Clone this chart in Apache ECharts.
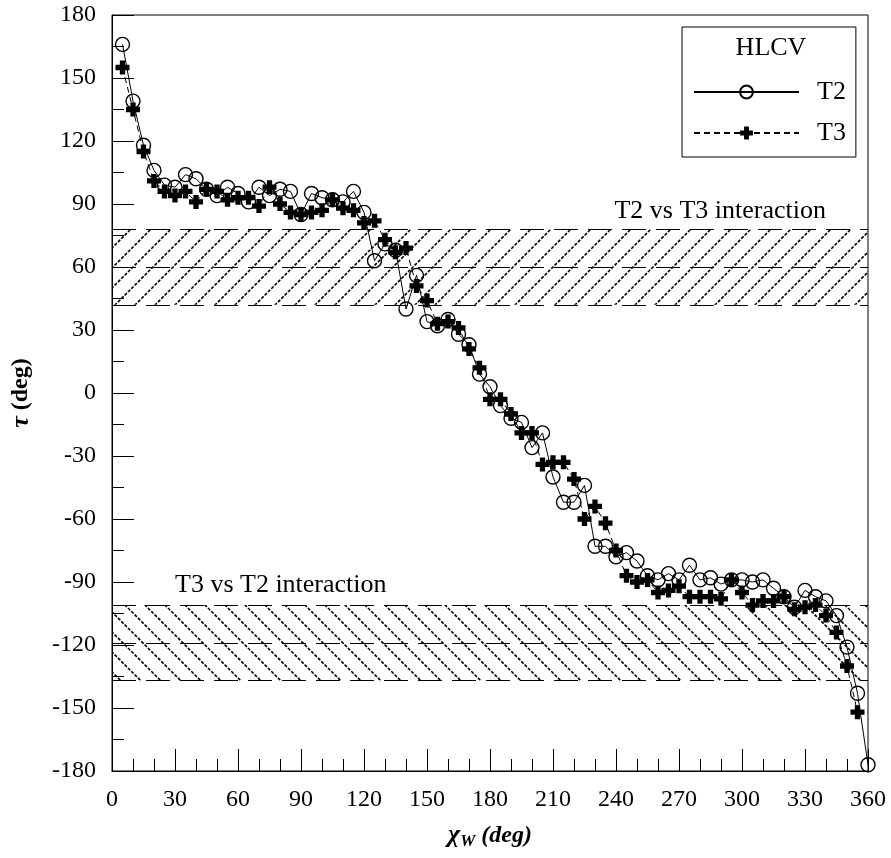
<!DOCTYPE html>
<html>
<head>
<meta charset="utf-8">
<script src="https://cdn.jsdelivr.net/npm/echarts@6/dist/echarts.min.js"></script>
<style>html,body{margin:0;padding:0;background:#fff}#c{width:891px;height:858px}</style>
</head>
<body>
<div id="c"></div>
<script>
// ---- data ----
const chiW = [5,10,15,20,25,30,35,40,45,50,55,60,65,70,75,80,85,90,95,100,105,110,115,120,125,130,135,140,145,150,155,160,165,170,175,180,185,190,195,200,205,210,215,220,225,230,235,240,245,250,255,260,265,270,275,280,285,290,295,300,305,310,315,320,325,330,335,340,345,350,355,360];
const tauT2 = [166,139,118,106,99,98,104,102,97,94,98,95,91,98,94,97,96,85,95,93,92,91,96,86,63,71,68,40,56,34,32,35,28,23,9,3,-6,-12,-14,-26,-19,-40,-52,-52,-44,-73,-73,-78,-76,-80,-87,-89,-86,-89,-82,-89,-88,-91,-89,-89,-90,-89,-93,-97,-102,-94,-97,-99,-106,-121,-143,-177];
const tauT3 = [155,135,115,101,96,94,96,91,97,96,92,93,93,89,98,90,86,85,86,87,92,88,87,81,82,73,67,69,51,44,33,34,31,21,12,-3,-3,-10,-19,-19,-34,-33,-33,-41,-60,-54,-62,-75,-87,-90,-89,-95,-94,-92,-97,-97,-97,-98,-89,-95,-101,-99,-99,-97,-103,-102,-101,-106,-114,-130,-152];
const bandUpper = [42, 60, 78];      // T2 vs T3 interaction (low, centre, high)
const bandLower = [-137, -119, -101]; // T3 vs T2 interaction
const xTicks = [0, 360, 30];
const yTicks = [-180, 180, 30];
const seriesNames = ['T2', 'T3'];
const legendTitle = 'HLCV';
const noteUpper = 'T2 vs T3 interaction';
const noteLower = 'T3 vs T2 interaction';

const FONT = '"Liberation Serif", "DejaVu Serif", serif';

function hatch(dir) {
  const s = 20;
  const c = document.createElement('canvas');
  c.width = s; c.height = s;
  const g = c.getContext('2d');
  g.strokeStyle = '#000';
  g.lineWidth = 1.6;
  g.setLineDash([3.2, 1.5]);
  g.beginPath();
  if (dir > 0) {
    g.moveTo(-2, s + 2); g.lineTo(s + 2, -2);
    g.moveTo(-2, 2); g.lineTo(2, -2);
    g.moveTo(s - 2, s + 2); g.lineTo(s + 2, s - 2);
  } else {
    g.moveTo(-2, -2); g.lineTo(s + 2, s + 2);
    g.moveTo(s - 2, -2); g.lineTo(s + 2, 2);
    g.moveTo(-2, s - 2); g.lineTo(2, s + 2);
  }
  g.stroke();
  return c;
}

const plusPath = 'path://M3.1,0H6.9V3.1H10V6.9H6.9V10H3.1V6.9H0V3.1H3.1Z';

const chart = echarts.init(document.getElementById('c'), null, {renderer: 'canvas'});

const bandLineStyle = {color: '#000', width: 1, type: [24, 10]};
function bandLines(b) {
  return b.map(v => ({yAxis: v}));
}

chart.setOption({
  animation: false,
  backgroundColor: '#fff',
  grid: {left: 111, right: 23, top: 15, bottom: 87, show: true, borderColor: '#000', borderWidth: 1},
  xAxis: {
    type: 'value', min: xTicks[0], max: xTicks[1], interval: xTicks[2],
    axisLine: {onZero: false, lineStyle: {color: '#000', width: 1}},
    axisTick: {inside: true, length: 22, lineStyle: {color: '#000'}},
    minorTick: {show: true, splitNumber: 3, length: 12, lineStyle: {color: '#000'}},
    splitLine: {show: false},
    axisLabel: {color: '#000', fontFamily: FONT, fontSize: 24, margin: 17},
    name: '{g|χ}{s|W}{d| (deg)}',
    nameLocation: 'middle', nameGap: 50,
    nameTextStyle: {
      rich: {
        g: {fontFamily: FONT, fontSize: 26, fontWeight: 'bold', fontStyle: 'italic', color: '#000'},
        s: {fontFamily: FONT, fontSize: 17, fontWeight: 'bold', fontStyle: 'italic', color: '#000', verticalAlign: 'bottom', padding: [12, 0, 0, 0]},
        d: {fontFamily: FONT, fontSize: 24, fontWeight: 'bold', fontStyle: 'italic', color: '#000'}
      }
    }
  },
  yAxis: {
    type: 'value', min: yTicks[0], max: yTicks[1], interval: yTicks[2],
    axisLine: {show: true, onZero: false, lineStyle: {color: '#000', width: 1}},
    axisTick: {show: true, inside: true, length: 22, lineStyle: {color: '#000'}},
    minorTick: {show: true, splitNumber: 2, length: 12, lineStyle: {color: '#000'}},
    splitLine: {show: false},
    axisLabel: {color: '#000', fontFamily: FONT, fontSize: 24, margin: 16},
    name: '{g|τ}{d| (deg)}',
    nameLocation: 'middle', nameGap: 78, nameRotate: 90,
    nameTextStyle: {
      rich: {
        g: {fontFamily: FONT, fontSize: 26, fontWeight: 'bold', fontStyle: 'italic', color: '#000'},
        d: {fontFamily: FONT, fontSize: 24, fontWeight: 'bold', color: '#000'}
      }
    }
  },
  legend: {
    data: seriesNames,
    orient: 'vertical',
    left: 682, top: 27,
    padding: [52, 10, 11, 11],
    itemWidth: 105, itemHeight: 16, itemGap: 15,
    borderColor: '#000', borderWidth: 1,
    backgroundColor: '#fff',
    formatter: n => '  ' + n,
    textStyle: {fontFamily: FONT, fontSize: 26, color: '#000', lineHeight: 22},
    selectedMode: false
  },
  graphic: [
    {type: 'text', z: 100, x: 771, y: 48, style: {text: legendTitle, fontFamily: FONT, fontSize: 26, fill: '#000', textAlign: 'center', textVerticalAlign: 'middle'}},
    {type: 'text', z: 100, x: 826, y: 211, style: {text: noteUpper, fontFamily: FONT, fontSize: 26, fill: '#000', textAlign: 'right', textVerticalAlign: 'middle'}},
    {type: 'text', z: 100, x: 175, y: 585, style: {text: noteLower, fontFamily: FONT, fontSize: 26, fill: '#000', textAlign: 'left', textVerticalAlign: 'middle'}}
  ],
  series: [
    {
      name: 'bands', type: 'line', data: [], silent: true, z: 1,
      markArea: {
        silent: true,
        data: [
          [{yAxis: bandUpper[0], itemStyle: {color: {image: hatch(1), repeat: 'repeat'}}}, {yAxis: bandUpper[2]}],
          [{yAxis: bandLower[0], itemStyle: {color: {image: hatch(-1), repeat: 'repeat'}}}, {yAxis: bandLower[2]}]
        ]
      },
      markLine: {
        silent: true, symbol: 'none', label: {show: false},
        lineStyle: bandLineStyle,
        data: bandLines(bandUpper).concat(bandLines(bandLower))
      }
    },
    {
      name: seriesNames[0], type: 'line', z: 3,
      data: chiW.map((x, i) => [x, tauT2[i]]),
      symbol: 'circle', symbolSize: 14,
      lineStyle: {color: '#000', width: 1, type: 'solid'},
      itemStyle: {color: 'rgba(0,0,0,0)', borderColor: '#000', borderWidth: 1.4}
    },
    {
      name: seriesNames[1], type: 'line', z: 4,
      data: tauT3.map((y, i) => [chiW[i], y]),
      symbol: plusPath, symbolSize: 14,
      lineStyle: {color: '#000', width: 1, type: [6, 4]},
      itemStyle: {color: '#000'}
    }
  ]
});
</script>
</body>
</html>
